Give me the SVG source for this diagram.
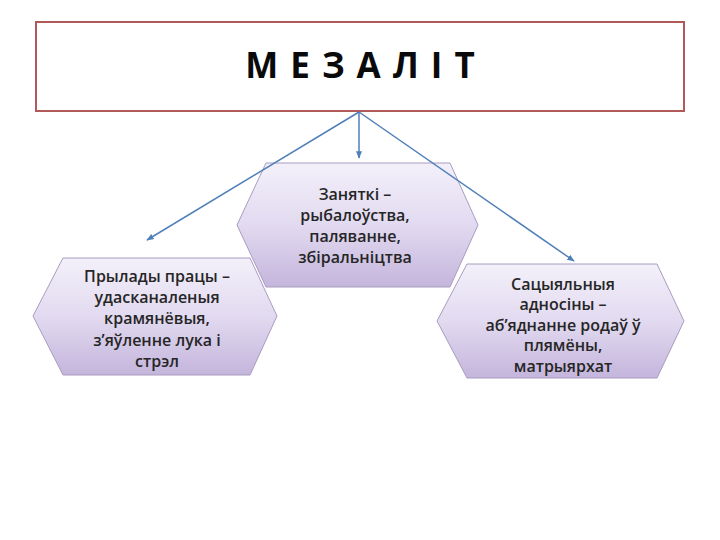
<svg xmlns="http://www.w3.org/2000/svg" width="720" height="540" viewBox="0 0 720 540">
<defs>
<linearGradient id="hexfill" x1="0" y1="0" x2="0" y2="1">
<stop offset="0" stop-color="#f3f0fa"/>
<stop offset="0.5" stop-color="#e2daf0"/>
<stop offset="1" stop-color="#c4b5dc"/>
</linearGradient>
<marker id="arr" viewBox="0 0 10 10" refX="9" refY="5" markerWidth="5" markerHeight="5" orient="auto">
<path d="M0,1 L10,5 L0,9 z" fill="#4f7fb8"/>
</marker>
<style>
.hex{fill:url(#hexfill);stroke:#a89cc0;stroke-width:1}
.t{font-family:"Open Sans","Liberation Sans",sans-serif;font-size:16px;font-weight:600;fill:#262626;text-anchor:middle}
.c{stroke:#4f7fb8;stroke-width:1.5;fill:none;marker-end:url(#arr)}
</style>
</defs>
<rect width="720" height="540" fill="#ffffff"/>
<g id="title">
<rect x="36" y="22" width="648" height="89" fill="#ffffff" stroke="#b25a5a" stroke-width="2"/>
<text x="366" y="78" font-family="Open Sans, Liberation Sans, sans-serif" font-size="35" font-weight="700" letter-spacing="12" text-anchor="middle" fill="#0a0a0a">МЕЗАЛІТ</text>
</g>
<g id="node-middle">
<polygon class="hex" points="266,163 450,163 478,225 450,287 266,287 237,225"/>
<text class="t" x="355" y="200">Заняткі –</text>
<text class="t" x="355" y="221">рыбалоўства,</text>
<text class="t" x="355" y="242">паляванне,</text>
<text class="t" x="355" y="263">збіральніцтва</text>
</g>
<g id="node-left">
<polygon class="hex" points="63,258 250,258 277,316 250,375 63,375 33,316"/>
<text class="t" x="157" y="282">Прылады працы –</text>
<text class="t" x="157" y="303">удасканаленыя</text>
<text class="t" x="157" y="324">крамянёвыя,</text>
<text class="t" x="157" y="346">з’яўленне лука і</text>
<text class="t" x="157" y="367">стрэл</text>
</g>
<g id="node-right">
<polygon class="hex" points="467,264 657,264 684,321 657,378 467,378 437,321"/>
<text class="t" x="563" y="290">Сацыяльныя</text>
<text class="t" x="563" y="310">адносіны –</text>
<text class="t" x="563" y="331">аб’яднанне родаў ў</text>
<text class="t" x="563" y="351">плямёны,</text>
<text class="t" x="563" y="372">матрыярхат</text>
</g>
<g id="connectors">
<line class="c" x1="359" y1="112" x2="147" y2="240"/>
<line class="c" x1="359" y1="112" x2="359" y2="158"/>
<line class="c" x1="359" y1="112" x2="574" y2="261"/>
</g>
</svg>
